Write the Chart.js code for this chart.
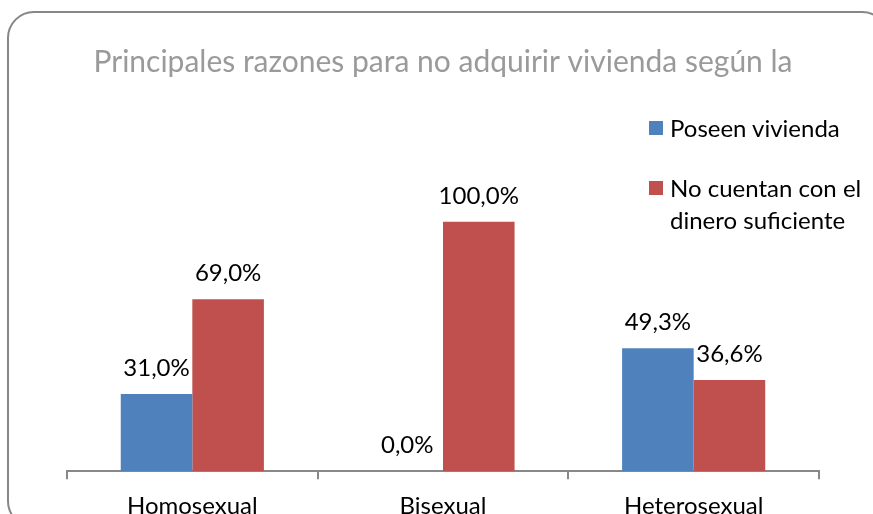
<!DOCTYPE html>
<html>
<head>
<meta charset="utf-8">
<script src="https://cdn.jsdelivr.net/npm/chart.js@4"></script>
<style>
  html, body { margin: 0; padding: 0; background: #fff; overflow: hidden; }
  #wrap { position: relative; width: 873px; height: 514px; overflow: hidden; }
  /* rounded outer frame, runs past right and bottom edges */
  #frame {
    position: absolute; left: 7px; top: 11px; width: 878px; height: 513px;
    border: 2px solid #878787; border-radius: 27px;
  }
  #box { position: absolute; left: 0; top: 0; width: 873px; height: 536px; }
  #legend {
    position: absolute; left: 649px; top: 112px;
    font-family: Lato, 'Open Sans', sans-serif; font-size: 24px; color: #000;
  }
  .item { position: relative; padding-left: 21px; line-height: 32px; margin-bottom: 28px; }
  .item .sw { position: absolute; left: 0; top: 9px; width: 14px; height: 14px; }
</style>
</head>
<body>
<div id="wrap">
  <div id="frame"></div>
  <div id="box"><canvas id="chart"></canvas></div>
  <div id="legend"></div>
</div>
<script>
'use strict';

// ── Data ──
const categories = ['Homosexual', 'Bisexual', 'Heterosexual'];
const seriesNames = ['Poseen vivienda', ['No cuentan con el', 'dinero suficiente']];
const poseenVivienda = [0.310, 0.000, 0.493];
const noCuentanDinero = [0.690, 1.000, 0.366];
const COLORS = ['#4f81bd', '#c0504d'];

const fmtPct = (v) => (v * 100).toFixed(1).replace('.', ',') + '%';

// ── Value labels above bars ──
const valueLabels = {
  id: 'valueLabels',
  afterDatasetsDraw(chart) {
    const ctx = chart.ctx;
    ctx.save();
    ctx.font = "24px Lato, 'Open Sans', sans-serif";
    ctx.fillStyle = '#000';
    ctx.textAlign = 'center';
    ctx.textBaseline = 'middle';
    chart.data.datasets.forEach((ds, i) => {
      chart.getDatasetMeta(i).data.forEach((bar, j) => {
        ctx.fillText(fmtPct(ds.data[j]), bar.x, bar.y - 26);
      });
    });
    ctx.restore();
  }
};

new Chart(document.getElementById('chart'), {
  type: 'bar',
  data: {
    labels: categories,
    datasets: [
      { label: 'Poseen vivienda', data: poseenVivienda, backgroundColor: COLORS[0] },
      { label: 'No cuentan con el dinero suficiente', data: noCuentanDinero, backgroundColor: COLORS[1] },
    ],
  },
  options: {
    responsive: true, maintainAspectRatio: false, animation: false,
    categoryPercentage: 0.571, barPercentage: 1,
    layout: { padding: { left: 67, right: 54, top: 0, bottom: 2 } },
    plugins: {
      legend: { display: false },
      tooltip: { enabled: false },
      title: {
        display: true,
        text: 'Principales razones para no adquirir vivienda según la',
        color: '#9a9a9a',
        font: { family: "Lato, 'Open Sans', sans-serif", size: 30, weight: 'normal' },
        padding: { top: 44, bottom: 92 },
      },
    },
    scales: {
      y: { display: false, min: 0, max: 1.2 },
      x: {
        offset: true,
        grid: { offset: true, drawOnChartArea: false, drawTicks: true, tickLength: 8, color: '#888', lineWidth: 2 },
        border: { display: true, color: '#888', width: 2 },
        ticks: { color: '#000', padding: 13, font: { family: "Lato, 'Open Sans', sans-serif", size: 24 } },
      },
    },
  },
  plugins: [valueLabels],
});

// ── HTML legend ──
const legendEl = document.getElementById('legend');
seriesNames.forEach((name, i) => {
  const item = document.createElement('div');
  item.className = 'item';
  const sw = document.createElement('span');
  sw.className = 'sw';
  sw.style.background = COLORS[i];
  item.appendChild(sw);
  const lines = Array.isArray(name) ? name : [name];
  lines.forEach((t, k) => {
    if (k) item.appendChild(document.createElement('br'));
    item.appendChild(document.createTextNode(t));
  });
  legendEl.appendChild(item);
});
</script>
</body>
</html>
